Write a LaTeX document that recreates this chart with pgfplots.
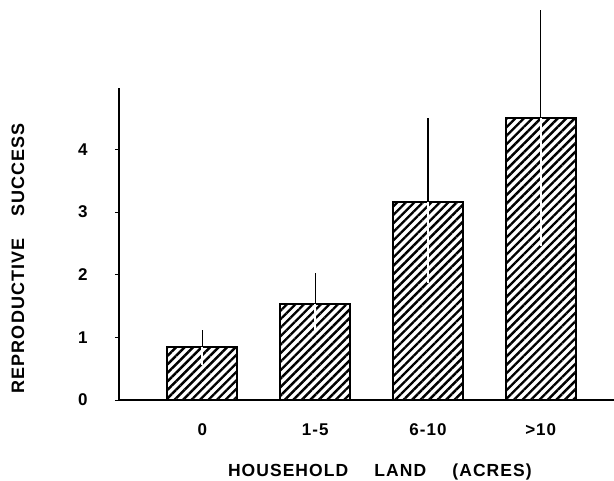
\documentclass[border=0pt]{standalone}
\usepackage{fontspec}
\setmainfont{Liberation Sans}
\newfontfamily\lab[LetterSpace=6]{Liberation Sans}
\usepackage{pgfplots}
\pgfplotsset{compat=1.18}
\usetikzlibrary{patterns.meta}
\begin{document}
\begin{tikzpicture}[x=1pt,y=1pt]
\begin{axis}[
  at={(119pt,81pt)}, anchor=south west,
  scale only axis, width=495pt, height=312pt,
  xmin=-0.74, xmax=3.65, ymin=0, ymax=4.98,
  axis x line*=bottom, axis y line*=left,
  axis line style={-, line width=1.8pt},
  clip=false,
  xtick={0,1,2,3}, xticklabels={0,1-5,6-10,>10},
  x tick style={draw=none},
  ytick={0,1,2,3,4}, yticklabels={0,1,2,3,4},
  y tick style={line width=0.8pt, black},
  tick align=outside, major tick length=4pt,
  ticklabel style={font=\lab\bfseries\fontsize{17}{20}\selectfont},
  yticklabel style={xshift=-24pt},
  xticklabel style={yshift=-16pt},
  xlabel={HOUSEHOLD\hspace{1.5em}LAND\hspace{1.5em}(ACRES)},
  xlabel style={font=\lab\bfseries\fontsize{17.5}{21}\selectfont,
    at={(axis description cs:0.527,-0.2436)}, anchor=base},
  ylabel={REPRODUCTIVE\hspace{1.2em}SUCCESS},
  ylabel style={font=\lab\bfseries\fontsize{18}{21}\selectfont,
    at={(axis description cs:-0.204,0.454)}, anchor=center},
]
\addplot[ybar, bar width=0.62, draw=black, line width=2pt,
  pattern={Lines[angle=45,distance=6pt,line width=2.4pt]}]
  coordinates {(0,0.85) (1,1.53) (2,3.16) (3,4.50)};
\addplot[draw=none, mark=none, forget plot,
  error bars/.cd, y dir=minus, y explicit, error mark=none,
  error bar style={draw=white, line width=2pt}]
  coordinates {(0,0.85) -= (0,0.29) (1,1.53) -= (0,0.46) (2,3.16) -= (0,1.29) (3,4.50) -= (0,2.05)};
\addplot[draw=none, mark=none, forget plot,
  error bars/.cd, y dir=plus, y explicit, error mark=none,
  error bar style={draw=black, line width=1.1pt}]
  coordinates {(0,0.85) += (0,0.27) (1,1.53) += (0,0.50) (2,3.16) += (0,1.34) (3,4.50) += (0,1.73)};
\end{axis}
\pgfresetboundingbox
\path[use as bounding box] (0,0) rectangle (614,481);
\end{tikzpicture}
\end{document}
